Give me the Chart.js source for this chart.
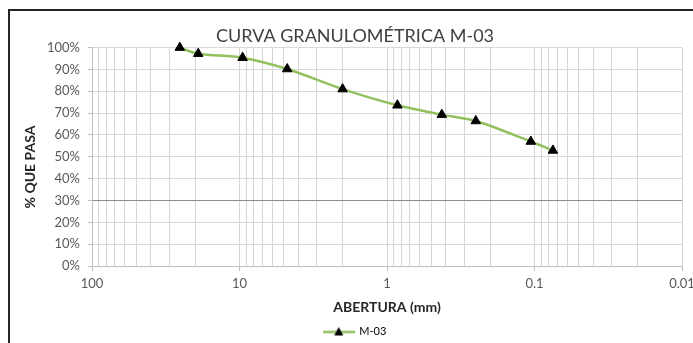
<!DOCTYPE html>
<html><head><meta charset="utf-8">
<script src="https://cdn.jsdelivr.net/npm/chart.js@4"></script>
<style>
html,body{margin:0;padding:0;background:#fff;overflow:hidden;width:693px;height:343px;}
#frame{position:absolute;left:8px;top:9px;width:800px;height:400px;border-left:2px solid #262626;border-top:2px solid #262626;box-sizing:border-box;}
#wrap{position:absolute;left:0;top:0;width:720px;height:360px;}
</style></head><body>
<div id="frame"></div>
<div id="wrap"><canvas id="c" width="720" height="360"></canvas></div>
<script>
// Data
const sieveOpenings = [25.4, 19.05, 9.525, 4.75, 2.0, 0.85, 0.425, 0.25, 0.106, 0.075];   // mm
const percentPassing = [100, 97.2, 95.4, 90.2, 81.0, 73.6, 69.3, 66.4, 57.0, 52.9];      // %
const seriesName = 'M-03';
const majorTicks = [100, 10, 1, 0.1, 0.01];
const majorTickLabels = ['100', '10', '1', '0.1', '0.01'];
const minorMultipliers = [2, 3, 4, 5, 6, 7, 8, 9];
const yTickValues = [0, 10, 20, 30, 40, 50, 60, 70, 80, 90, 100];

const xTickValues = [];
majorTicks.forEach(m => {
  xTickValues.push(m);
  if (m < 100) minorMultipliers.forEach(k => xTickValues.push(+(m * k).toPrecision(6)));
});
xTickValues.sort((a, b) => a - b);

Chart.defaults.font.family = 'Lato, "Open Sans", sans-serif';
Chart.defaults.color = '#595959';

const lineColor = '#93c05f';

// legend symbol: line with a triangle marker
const sym = document.createElement('canvas');
sym.width = 32; sym.height = 12;
(function () {
  const g = sym.getContext('2d');
  g.strokeStyle = lineColor; g.lineWidth = 2.5;
  g.beginPath(); g.moveTo(0, 6.5); g.lineTo(32, 6.5); g.stroke();
  g.fillStyle = '#000';
  g.beginPath(); g.moveTo(16, 1.5); g.lineTo(11.5, 10); g.lineTo(20.5, 10); g.closePath(); g.fill();
})();

const isMajor = (v) => majorTicks.some(m => Math.abs(m - v) < m * 1e-6);

new Chart(document.getElementById('c'), {
  type: 'line',
  data: {
    datasets: [{
      label: seriesName,
      data: sieveOpenings.map((x, i) => ({ x: x, y: percentPassing[i] })),
      borderColor: lineColor,
      backgroundColor: '#000',
      borderWidth: 2.5,
      tension: 0.3,
      clip: false,
      pointStyle: 'triangle',
      pointRadius: 5.5,
      pointBackgroundColor: '#000',
      pointBorderColor: '#000',
      pointBorderWidth: 1,
      fill: false
    }]
  },
  options: {
    responsive: false,
    animation: false,
    layout: { padding: { left: 9, right: 19, top: 0, bottom: 13 } },
    plugins: {
      title: {
        display: true,
        text: 'CURVA GRANULOMÉTRICA M-03',
        color: '#404040',
        font: { size: 18, weight: 'normal' },
        padding: { top: 25, bottom: 1 }
      },
      legend: {
        display: true,
        position: 'bottom',
        labels: {
          usePointStyle: true,
          pointStyleWidth: 30,
          padding: 4,
          color: '#595959',
          font: { size: 11 },
          generateLabels: (chart) => [{
            text: seriesName,
            pointStyle: sym,
            fillStyle: '#000',
            strokeStyle: lineColor,
            lineWidth: 0,
            datasetIndex: 0,
            hidden: false
          }]
        }
      },
      tooltip: { enabled: false }
    },
    scales: {
      x: {
        type: 'logarithmic',
        reverse: true,
        min: 0.01,
        max: 100,
        afterBuildTicks: (s) => { s.ticks = xTickValues.map(v => ({ value: v })); },
        afterFit: (s) => { s.height = 56; },
        ticks: {
          autoSkip: false,
          maxRotation: 0,
          padding: 5,
          color: '#595959',
          font: { size: 13 },
          callback: (v) => {
            const i = majorTicks.findIndex(m => Math.abs(m - v) < m * 1e-6);
            return i >= 0 ? majorTickLabels[i] : '';
          }
        },
        grid: {
          color: '#d4d4d4',
          lineWidth: 1,
          tickLength: 5,
          tickColor: (ctx) => (ctx.tick && isMajor(ctx.tick.value)) ? '#bfbfbf' : 'rgba(0,0,0,0)'
        },
        border: { color: '#bfbfbf', width: 1 },
        title: {
          display: true,
          text: 'ABERTURA (mm)',
          color: '#262626',
          font: { size: 14, weight: 'bold' },
          padding: { top: 0, bottom: 6 }
        }
      },
      y: {
        type: 'linear',
        min: 0,
        max: 100,
        afterBuildTicks: (s) => { s.ticks = yTickValues.map(v => ({ value: v })); },
        afterFit: (s) => { s.width = 83; },
        ticks: {
          padding: 8,
          color: '#595959',
          font: { size: 13 },
          callback: (v) => v + '%'
        },
        grid: {
          color: (ctx) => (ctx.tick && ctx.tick.value === 30) ? '#8c8c8c' : '#d9d9d9',
          tickColor: '#bfbfbf',
          tickLength: 4
        },
        border: { color: '#bfbfbf', width: 1 },
        title: {
          display: true,
          text: '% QUE PASA      ',
          color: '#262626',
          font: { size: 14, weight: 'bold' },
          padding: { top: 13, bottom: 0 }
        }
      },
      yR: {
        type: 'linear',
        position: 'right',
        display: true,
        grid: { display: false, drawTicks: false },
        ticks: { display: false },
        border: { display: false },
        afterFit: (s) => { s.width = 19; }
      }
    }
  }
});
</script>
</body></html>
